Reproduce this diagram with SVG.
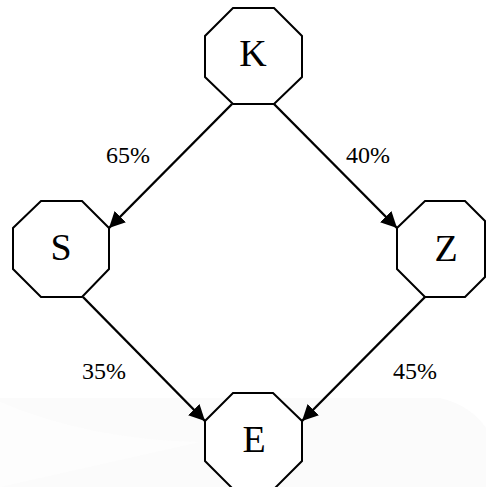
<svg xmlns="http://www.w3.org/2000/svg" width="486" height="487" viewBox="0 0 486 487">
<style>
.node{fill:#fff;stroke:#000;stroke-width:2}
text{font-family:'Liberation Serif','Times New Roman',Times,serif;fill:#000;text-anchor:middle}
.nl{font-size:38px}
.el{font-size:24px}
.edge{stroke:#000;stroke-width:2.4;fill:none}
</style>
<defs>
<marker id="ah" markerUnits="userSpaceOnUse" markerWidth="18" markerHeight="18" refX="16" refY="8" orient="auto">
<path d="M0,0 L16,8 L0,16 Z" fill="#000"/>
</marker>
</defs>
<rect width="486" height="487" fill="#fff"/>
<path d="M0,398 L440,398 Q470,405 486,428 L486,487 L0,487 Z" fill="#fbfbfb"/>
<path d="M0,402 Q90,440 200,442 L0,487 Z" fill="#fdfdfd"/>
<g id="edges">
<line class="edge" x1="232" y1="104" x2="109" y2="228" marker-end="url(#ah)"/>
<line class="edge" x1="274" y1="104" x2="397" y2="228" marker-end="url(#ah)"/>
<line class="edge" x1="83" y1="297" x2="205" y2="421" marker-end="url(#ah)"/>
<line class="edge" x1="425" y1="297" x2="302" y2="421" marker-end="url(#ah)"/>
<text class="el" x="128" y="163">65%</text>
<text class="el" x="368" y="163">40%</text>
<text class="el" x="104" y="379">35%</text>
<text class="el" x="415" y="379">45%</text>
</g>
<g id="K">
<polygon class="node" points="233,8 274,8 302,36 302,77 274,104 233,104 205,77 205,36"/>
<text class="nl" x="253" y="66">K</text>
</g>
<g id="S">
<polygon class="node" points="41,201 82,201 109,228 109,269 82,297 41,297 13,269 13,228"/>
<text class="nl" x="61" y="260">S</text>
</g>
<g id="Z">
<polygon class="node" points="425,201 465,201 485,221 485,277 465,297 425,297 397,269 397,228"/>
<text class="nl" x="446" y="261">Z</text>
</g>
<g id="E">
<polygon class="node" points="233,393 273,393 302,421 302,461 274,489 233,489 205,461 205,421"/>
<text class="nl" x="254" y="452">E</text>
</g>
</svg>
